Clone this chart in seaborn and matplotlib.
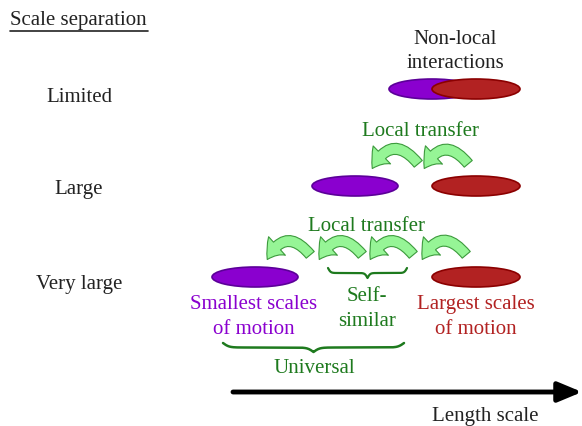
import numpy as np
import seaborn as sns
import matplotlib
matplotlib.use("Agg")
import matplotlib.pyplot as plt
from matplotlib.patches import Ellipse, FancyArrowPatch

# rows of the diagram
row_labels = ["Limited", "Large", "Very large"]
row_y = [95, 188, 283]

# ellipses: (x centre, y centre) for smallest (purple) and largest (red) scales
small_pos = [(432, 90), (355, 187), (255, 278)]
large_pos = [(476, 90), (476, 187), (476, 278)]

# local transfer arrows: (tail, tip)
arrows_row2 = [((470, 167), (423, 172)), ((420, 167), (371, 172))]
arrows_row3 = [((468, 258), (421, 263)), ((415, 258), (369, 263)),
               ((364, 258), (318, 263)), ((312, 258), (266, 263))]

purple = "#8a00cf"
purple_edge = "#5c0099"
red = "#b22222"
red_edge = "#8b0000"
green = "#1e7a1e"
light_green = "#96f596"

sns.set_theme(style="white")
plt.rcParams["font.family"] = ["Liberation Serif", "DejaVu Serif"]

fig = plt.figure(figsize=(5.82, 4.27), dpi=100)
ax = fig.add_axes([0, 0, 1, 1])
ax.set_xlim(0, 582)
ax.set_ylim(427, 0)
ax.axis("off")

fs = 15
dy = 2  # small downward nudge for text

def label(x, y, s, color="#222222", ha="center"):
    ax.text(x, y + dy, s, fontsize=fs, ha=ha, va="center", color=color)

def brace(ax, x0, x1, y, h, color, lw):
    L = x1 - x0
    b = 60.0 / L
    t = np.linspace(0, L / 2, 200)
    g = 1 / (1 + np.exp(-b * t)) + 1 / (1 + np.exp(-b * (t - L / 2))) - 0.5
    g = (g - g.min()) / (g.max() - g.min())
    xs = np.concatenate([x0 + t, x1 - t[::-1]])
    ys = np.concatenate([g, g[::-1]]) * h + y
    ax.plot(xs, ys, color=color, lw=lw, solid_capstyle="round")

def curved_arrow(ax, tail, tip):
    ar = FancyArrowPatch(tail, tip, connectionstyle="arc3,rad=0.8",
                         arrowstyle="simple,head_width=18,head_length=12,tail_width=7.5",
                         facecolor=light_green, edgecolor="#3c9a3c", lw=0.8,
                         mutation_scale=1, zorder=3)
    ax.add_patch(ar)

label(10, 18, "Scale separation", ha="left")
ax.plot([10, 148], [32, 32], color="#222222", lw=1.2)

for lab, y in zip(row_labels, row_y):
    label(79, y, lab)

label(455, 37, "Non-local")
label(455, 62, "interactions")

for (sx, sy), (lx, ly) in zip(small_pos, large_pos):
    ax.add_patch(Ellipse((sx, sy), 86, 20, facecolor=purple, edgecolor=purple_edge, lw=1.2, zorder=2))
    ax.add_patch(Ellipse((lx, ly), 88, 20, facecolor=red, edgecolor=red_edge, lw=1.2, zorder=2))

label(420, 130, "Local transfer", color=green)
label(366, 225, "Local transfer", color=green)

for tail, tip in arrows_row2 + arrows_row3:
    curved_arrow(ax, tail, tip)

brace(ax, 328, 407, 269, 10, green, 1.6)
label(367, 295, "Self-", color=green)
label(367, 320, "similar", color=green)

label(254, 303, "Smallest scales", color=purple)
label(254, 328, "of motion", color=purple)
label(476, 303, "Largest scales", color=red)
label(476, 328, "of motion", color=red)

brace(ax, 223, 404, 344, 9, green, 1.8)
label(314, 367, "Universal", color=green)

ax.annotate("", xy=(582, 393), xytext=(233, 393),
            arrowprops=dict(arrowstyle="-|>,head_width=0.5,head_length=1.2", lw=3.5, color="black",
                            shrinkA=0, shrinkB=0))
label(485, 415, "Length scale")

fig.savefig("out.png", dpi=100)
